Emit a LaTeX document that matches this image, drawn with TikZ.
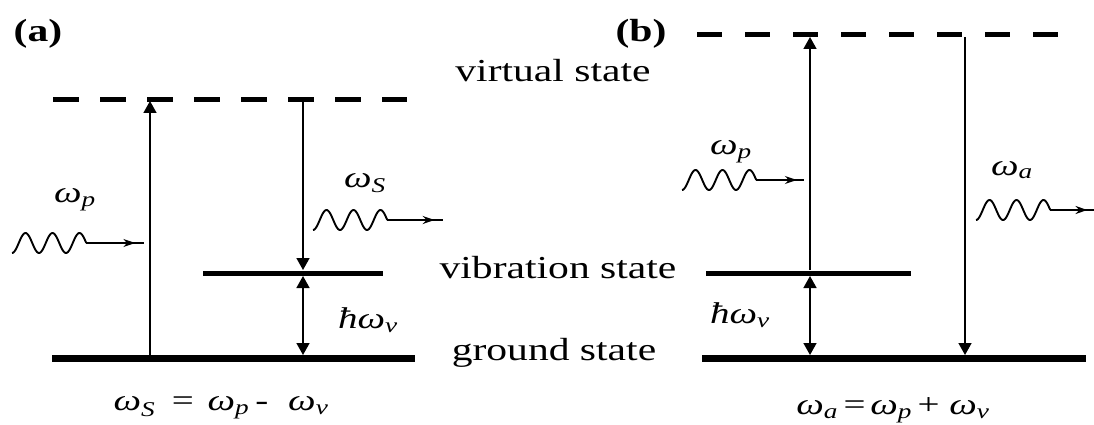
\documentclass[tikz,border=0pt]{standalone}
\usepackage{fontspec}
\setmainfont{Liberation Serif}[FakeStretch=1.3]
\usetikzlibrary{arrows.meta, decorations.markings}

\begin{document}
\begin{tikzpicture}[
    x=1pt, y=-1pt,
    vib/.style={line width=5pt},
    gnd/.style={line width=7pt},
    virt/.style={line width=5pt, dash pattern=on 26pt off 21pt},
    trans/.style={line width=1.6pt, -{Triangle[width=13pt,length=12pt]}},
    both/.style={line width=1.6pt, {Triangle[width=13pt,length=12pt]}-{Triangle[width=13pt,length=12pt]}},
    wavy/.style={line width=1.9pt},
    tail/.style={line width=1.8pt, decoration={markings, mark=at position 0.85 with {\arrow{Stealth[length=12pt,width=8pt]}}}, postaction=decorate},
    txt/.style={font=\fontsize{32}{36}\selectfont},
    sym/.style={font=\fontsize{30}{34}\selectfont\itshape}
]
\useasboundingbox (0,0) rectangle (1094,425);

% panel labels and level names
\node[txt, font=\fontsize{32}{36}\selectfont\bfseries] (pa) at (38,34) {(a)};
\node[txt, font=\fontsize{32}{36}\selectfont\bfseries] (pb) at (641,34) {(b)};
\node[txt] (virtname) at (553,71) {virtual state};
\node[txt] (vibname) at (558,268) {vibration state};
\node[txt] (gndname) at (554,353) {ground state};

% (a) levels
\draw[virt] (53,100) -- (407,100);
\draw[vib] (203,273) -- (383,273);
\draw[gnd] (52,358) -- (415,358);

% (a) transitions
\coordinate (aup0) at (150,355);
\coordinate (aup1) at (150,101);
\coordinate (adn0) at (303,101);
\coordinate (adn1) at (303,270);
\coordinate (avb0) at (303,276);
\coordinate (avb1) at (303,355);
\draw[trans] (aup0) -- (aup1);
\draw[trans] (adn0) -- (adn1);
\draw[both] (avb0) -- (avb1);

% (a) photons
\coordinate (apw0) at (12,243);
\coordinate (apw1) at (86.25,243);
\coordinate (apw2) at (144,243);
\draw[wavy, shift={(apw0)}] plot[domain=0:2.75, samples=90, smooth] ({27*\x}, {10*cos(360*\x)});
\draw[tail] (apw1) -- (apw2);
\node[sym] (apl) at (75,200) {ω\textsubscript{p}};

\coordinate (asw0) at (313,220);
\coordinate (asw1) at (387.25,220);
\coordinate (asw2) at (443,220);
\draw[wavy, shift={(asw0)}] plot[domain=0:2.75, samples=90, smooth] ({27*\x}, {10*cos(360*\x)});
\draw[tail] (asw1) -- (asw2);
\node[sym] (asl) at (365,183) {ω\textsubscript{S}};

\node[sym] (ahb) at (368,320) {ħω\textsubscript{ν}};
\node[sym] (aeq) at (221,408) {ω\textsubscript{S}\hspace{14pt}=\hspace{12pt}ω\textsubscript{p}\hspace{6pt}-\hspace{20pt}ω\textsubscript{ν}};

% (b) levels
\draw[virt, dash pattern=on 25pt off 23pt] (697,35) -- (1060,35);
\draw[vib] (706,273) -- (911,273);
\draw[gnd] (702,358) -- (1086,358);

% (b) transitions
\coordinate (bup0) at (810,270);
\coordinate (bup1) at (810,37);
\coordinate (bvb0) at (810,276);
\coordinate (bvb1) at (810,355);
\coordinate (bdn0) at (965,37);
\coordinate (bdn1) at (965,355);
\draw[trans] (bup0) -- (bup1);
\draw[both] (bvb0) -- (bvb1);
\draw[trans] (bdn0) -- (bdn1);

% (b) photons
\coordinate (bpw0) at (682,180);
\coordinate (bpw1) at (756.25,180);
\coordinate (bpw2) at (804,180);
\draw[wavy, shift={(bpw0)}] plot[domain=0:2.75, samples=90, smooth] ({27*\x}, {10*cos(360*\x)});
\draw[tail] (bpw1) -- (bpw2);
\node[sym] (bpl) at (731,152) {ω\textsubscript{p}};

\coordinate (baw0) at (976,210);
\coordinate (baw1) at (1050.25,210);
\coordinate (baw2) at (1094,210);
\draw[wavy, shift={(baw0)}] plot[domain=0:2.75, samples=90, smooth] ({27*\x}, {10*cos(360*\x)});
\draw[tail] (baw1) -- (baw2);
\node[sym] (bal) at (1012,170) {ω\textsubscript{a}};

\node[sym] (bhb) at (740,315) {ħω\textsubscript{ν}};
\node[sym] (beq) at (893,410) {ω\textsubscript{a}\hspace{3pt}=\hspace{3pt}ω\textsubscript{p}\hspace{3pt}+\hspace{8pt}ω\textsubscript{ν}};
\end{tikzpicture}
\end{document}
